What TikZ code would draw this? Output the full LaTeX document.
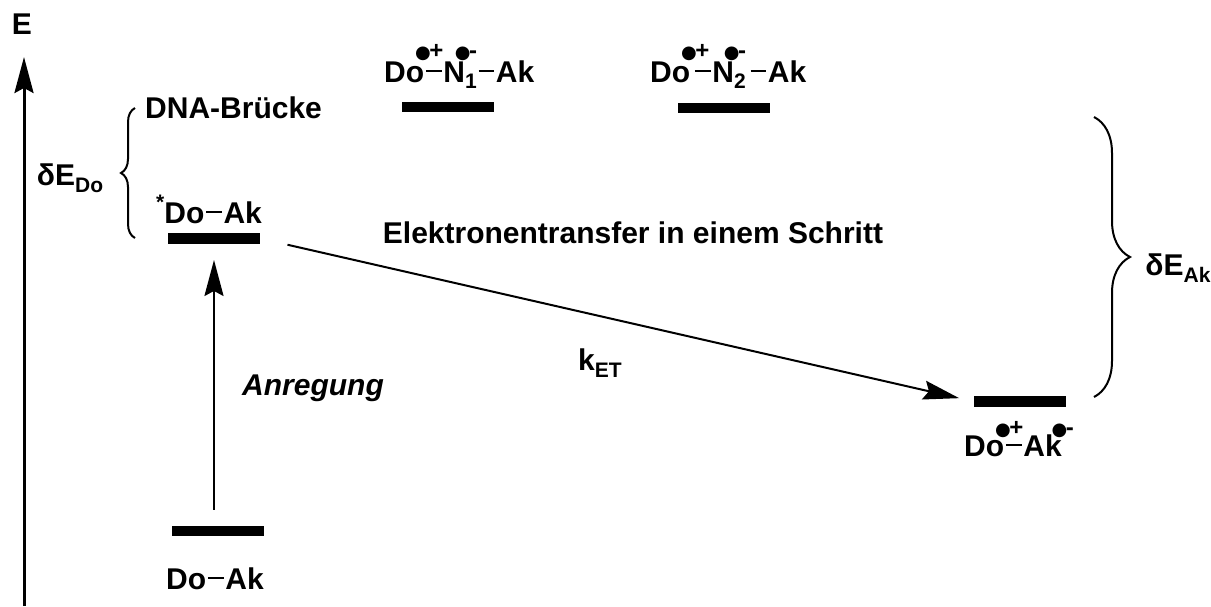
\documentclass[tikz,border=0pt]{standalone}
\usepackage{fontspec}
\setmainfont{Liberation Sans}
\newfontfamily\dvfont{DejaVu Sans}
\usetikzlibrary{arrows.meta,decorations.pathreplacing}
\newcommand{\bnd}{\hspace{0.06em}\rule[0.33em]{0.52em}{0.08em}\hspace{0.06em}}
\newcommand{\rdot}[3]{\makebox[0pt][l]{\hspace{#1}\raisebox{#2}{{\dvfont\fontsize{18}{18}\selectfont ●}\hspace{-0.05em}{\fontsize{24}{24}\selectfont\bfseries #3}}}}
\newcommand{\sbs}[1]{\raisebox{-0.22em}{\fontsize{21}{21}\selectfont #1}}
\begin{document}
\begin{tikzpicture}[x=1pt,y=-1pt,
  lab/.style={font=\fontsize{30}{34}\selectfont\bfseries, inner sep=0pt},
  level/.style={fill=black, minimum width=92pt, minimum height=10.5pt, inner sep=0pt},
  arr/.style={line width=2.2pt, -{Stealth[length=36pt,width=19pt,inset=5pt]}},
  brc/.style={line width=2pt, decorate, decoration={brace, amplitude=#1}}]
\useasboundingbox (0,0) rectangle (1211,606);
% axis
\coordinate (ax0) at (24,606);
\coordinate (ax1) at (24,57);
\draw[arr, line width=3pt] (ax0) -- (ax1);
\node[lab] (E) at (22,24) {E};
% levels
\node[level] (n1) at (448,107) {};
\node[level] (n2) at (724,108) {};
\node[level] (ex) at (214,238.5) {};
\node[level] (gs) at (218,531) {};
\node[level] (ct) at (1020,401.5) {};
% labels
\node[lab, anchor=base west] (n1t) at (384,82) {Do\rdot{-0.3em}{0.8em}{+}\bnd N\rdot{-0.34em}{0.8em}{-}\sbs{1}\bnd Ak};
\node[lab, anchor=base west] (n2t) at (650,82) {Do\rdot{-0.3em}{0.8em}{+}\hspace{0.1em}\bnd N\rdot{-0.34em}{0.8em}{-}\sbs{2}\hspace{0.1em}\bnd Ak};
\node[lab, anchor=base west] (dna) at (145,118) {DNA-Brücke};
\node[lab, anchor=base west] (ext) at (156,223) {\raisebox{0.45em}{\fontsize{21}{21}\selectfont *}Do\bnd Ak};
\node[lab, anchor=base west] (gst) at (166,589) {Do\bnd Ak};
\node[lab, anchor=base west] (ctt) at (964,456) {Do\rdot{-0.3em}{0.7em}{+}\bnd Ak\rdot{-0.34em}{0.7em}{-}};
\node[lab] (et) at (633,233) {Elektronentransfer in einem Schritt};
\node[lab] (ket) at (600,363) {k\sbs{ET}};
\node[lab, font=\fontsize{30}{34}\selectfont\bfseries\itshape] (anr) at (313,388) {Anregung};
\node[lab] (dedo) at (70,178) {δE\sbs{Do}};
\node[lab] (deak) at (1178,268) {δE\sbs{Ak}};
% braces
\draw[brc=14] (135,238) -- (135,108);
\draw[brc=36] (1094,117) -- (1094,397);
% arrows
\draw[arr, line width=2.5pt, shorten <=16pt, shorten >=16pt] (gs.north -| ex.south) -- (ex.south);
\draw[arr, line width=2pt, shorten <=28pt, shorten >=15pt] (ex.east) -- (ct.west);
\end{tikzpicture}
\end{document}
